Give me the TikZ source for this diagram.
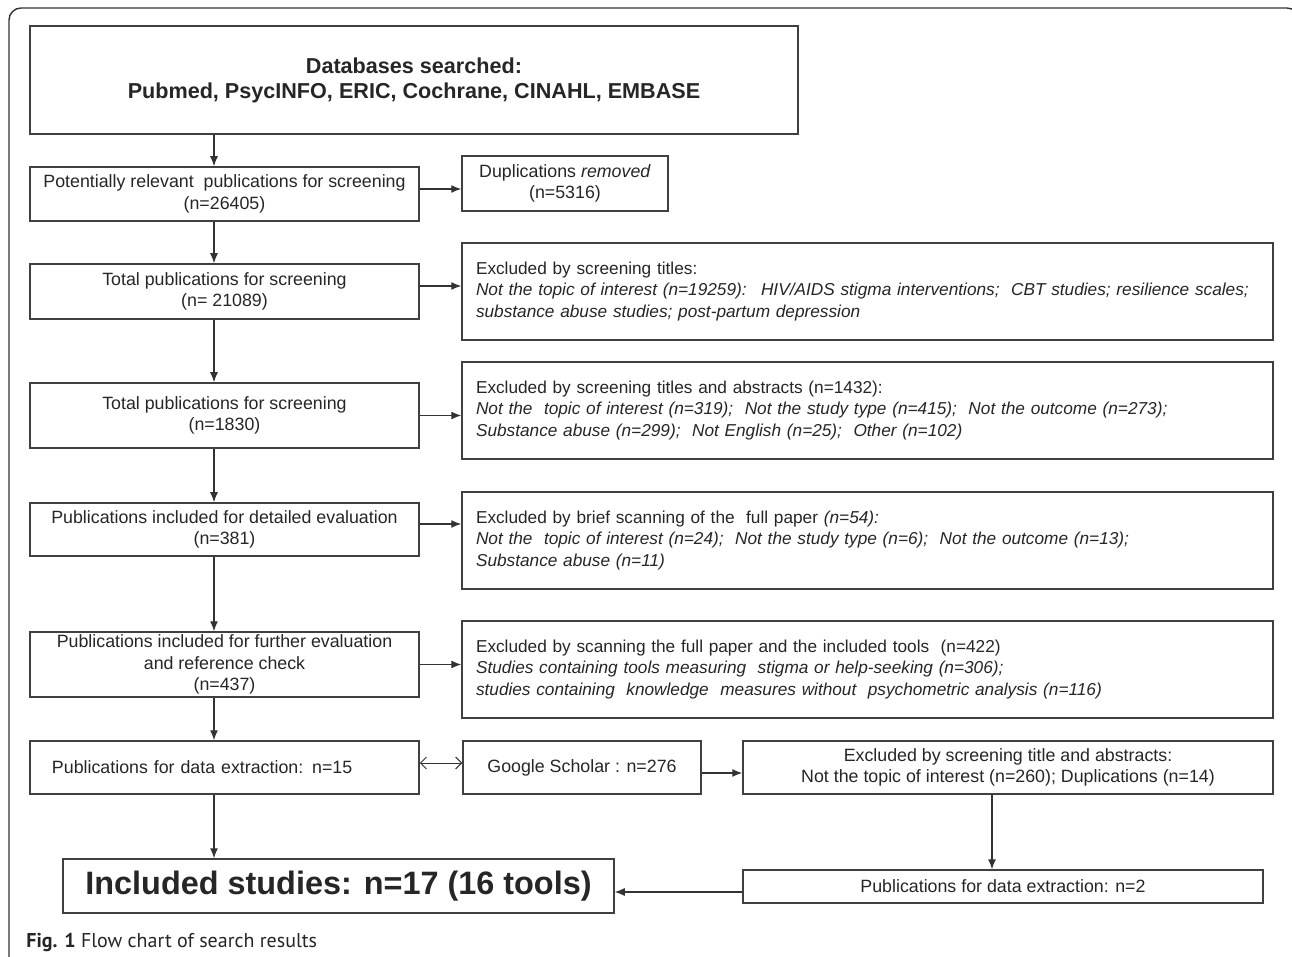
\documentclass[tikz,border=0pt]{standalone}
\usepackage{fontspec}
\setmainfont{Liberation Sans}
\newfontfamily\capfont{PT Sans}
\usetikzlibrary{arrows.meta,calc}

\tikzset{
  flowbox/.style={draw=black!75, line width=0.75pt, text=black!85, inner sep=0pt,
    align=center, font=\fontsize{8.9}{10.8}\selectfont},
  leftbox/.style={flowbox, minimum width=194.5pt},
  exclbox/.style={flowbox, minimum width=405.5pt, minimum height=48.5pt,
    text width=391.5pt, inner xsep=7pt, align=left, font=\fontsize{8.62}{10.8}\selectfont},
  arr/.style={draw=black!80, line width=0.6pt, -{Latex[length=5pt,width=4pt]}},
  dbl/.style={draw=black!80, line width=0.5pt, {Straight Barb[length=3pt,width=6pt]}-{Straight Barb[length=3pt,width=6pt]}},
}

\begin{document}
\begin{tikzpicture}[x=0.5pt,y=-0.5pt]
    \useasboundingbox (0,0) rectangle (1292,957);
    \clip (0,0) rectangle (1292,957);
    \fill[white] (0,0) rectangle (1292,957);
    % outer frame
    \draw[black!80, line width=0.7pt, rounded corners=6pt] (9,990) -- (9,8) -- (1299,8) -- (1299,990);

    % main column
    \node[flowbox, minimum width=384pt, minimum height=54pt,
      font=\bfseries\fontsize{10.8}{12.5}\selectfont] (db) at (414,80)
      {Databases searched:\\Pubmed, PsycINFO, ERIC, Cochrane, CINAHL, EMBASE};
    \node[leftbox, minimum height=27pt] (pot) at (224.5,194)
      {Potentially relevant \ publications for screening\\(n=26405)};
    \node[leftbox, minimum height=27.5pt] (tot1) at (224.5,291.5)
      {Total publications for screening\\(n= 21089)};
    \node[leftbox, minimum height=32.5pt] (tot2) at (224.5,415.5)
      {Total publications for screening\\(n=1830)};
    \node[leftbox, minimum height=26.5pt] (p381) at (224.5,529.5)
      {Publications included for detailed evaluation\\(n=381)};
    \node[leftbox, minimum height=32.5pt] (p437) at (224.5,664.5)
      {Publications included for further evaluation\\and reference check\\(n=437)};
    \node[leftbox, minimum height=26.5pt, text width=172.5pt, inner xsep=11pt, align=left] (p15) at (224.5,767.5)
      {Publications for data extraction: n=15};
    \node[flowbox, minimum width=275.5pt, minimum height=27pt,
      font=\bfseries\fontsize{16.2}{19}\selectfont] (inc) at (338.5,886)
      {Included studies: n=17 (16 tools)};

    % exclusions
    \node[flowbox, minimum width=103pt, minimum height=27.5pt] (dup) at (565,183.5)
      {Duplications \textit{removed}\\(n=5316)};
    \node[exclbox] (ex1) at (867.5,291.5)
      {Excluded by screening titles:\\
       \textit{Not the topic of interest (n=19259): \ HIV/AIDS stigma interventions; \ CBT studies; resilience scales;}\\
       \textit{substance abuse studies; post-partum depression}};
    \node[exclbox] (ex2) at (867.5,410.5)
      {Excluded by screening titles and abstracts (n=1432):\\
       \textit{Not the \ topic of interest (n=319); \ Not the study type (n=415); \ Not the outcome (n=273);}\\
       \textit{Substance abuse (n=299); \ Not English (n=25); \ Other (n=102)}};
    \node[exclbox] (ex3) at (867.5,540.5)
      {Excluded by brief scanning of the \ full paper \textit{(n=54):}\\
       \textit{Not the \ topic of interest (n=24); \ Not the study type (n=6); \ Not the outcome (n=13);}\\
       \textit{Substance abuse (n=11)}};
    \node[exclbox] (ex4) at (867.5,669.5)
      {Excluded by scanning the full paper and the included tools \ (n=422)\\
       \textit{Studies containing tools measuring \ stigma or help-seeking (n=306);}\\
       \textit{studies containing \ knowledge \ measures without \ psychometric analysis (n=116)}};

    % google scholar branch
    \node[flowbox, minimum width=119pt, minimum height=26.5pt] (gs) at (582,767.5)
      {Google Scholar : n=276};
    \node[flowbox, minimum width=265pt, minimum height=26.5pt] (exg) at (1008,767.5)
      {Excluded by screening title and abstracts:\\Not the topic of interest (n=260); Duplications (n=14)};
    \node[flowbox, minimum width=260pt, minimum height=16.5pt] (p2) at (1003,886.5)
      {Publications for data extraction: n=2};

    \node[anchor=base west, inner sep=0pt, text=black!85,
      font=\capfont\fontsize{10}{12}\selectfont] (cap) at (26,947)
      {\textbf{Fig. 1} Flow chart of search results};

    % connectors
    \coordinate (spine) at (214,0);
    \coordinate (drop) at (992,0);
    \foreach \a/\b in {db/pot, pot/tot1, tot1/tot2, tot2/p381, p381/p437, p437/p15, p15/inc}
      \draw[arr] (\a.south -| spine) -- (\b.north -| spine);
    \draw[arr] ($(pot.east)+(0,-5)$) -- ($(dup.west)+(0,5.5)$);
    \draw[arr] ($(tot1.east)+(0,-5.5)$) -- ($(ex1.west)+(0,-5.5)$);
    \draw[arr] (tot2.east) -- (tot2.east -| ex2.west);
    \draw[arr] ($(p381.east)+(0,-5.5)$) -- ($(ex3.west)+(0,-16.5)$);
    \draw[arr] (p437.east) -- (p437.east -| ex4.west);
    \draw[dbl] ($(p15.east)+(0,-4.5)$) -- ($(gs.west)+(0,-4.5)$);
    \draw[arr] ($(gs.east)+(0,5.5)$) -- ($(exg.west)+(0,5.5)$);
    \draw[arr] (exg.south -| drop) -- (p2.north -| drop);
    \draw[arr] ($(p2.west)+(0,5.5)$) -- ($(inc.east)+(0,6)$);
\end{tikzpicture}
\end{document}
